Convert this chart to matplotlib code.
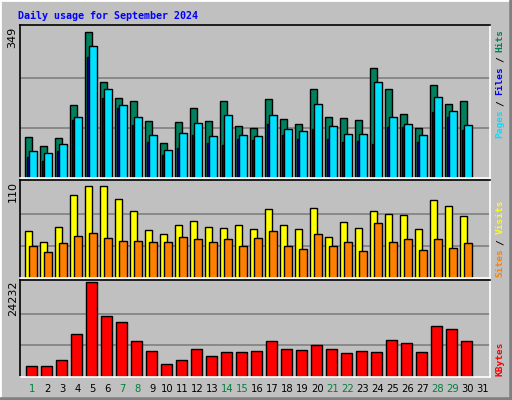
import matplotlib
matplotlib.use("Agg")
import matplotlib.pyplot as plt
from matplotlib.lines import Line2D

days = list(range(1, 31))
hits = [95, 74, 93, 171, 339, 224, 185, 178, 132, 81, 130, 164, 132, 178, 120,
        116, 183, 137, 125, 208, 141, 139, 134, 256, 206, 148, 116, 217, 173, 178]
files = [63, 58, 79, 143, 307, 206, 171, 141, 100, 65, 104, 127, 97, 146, 100,
         97, 146, 114, 109, 173, 120, 102, 102, 224, 143, 125, 100, 189, 157, 123]
pages = [49, 40, 63, 134, 281, 187, 162, 123, 84, 54, 70, 100, 81, 77, 91,
         88, 125, 100, 91, 114, 91, 84, 86, 79, 118, 118, 84, 153, 143, 111]
sites = [54, 41, 58, 95, 105, 105, 90, 77, 55, 50, 61, 65, 58, 57, 61,
         56, 79, 61, 56, 80, 47, 64, 57, 77, 73, 72, 56, 89, 83, 71]
visits = [37, 30, 40, 48, 51, 46, 42, 42, 41, 41, 47, 45, 41, 45, 37,
          46, 54, 37, 33, 50, 37, 41, 31, 63, 41, 45, 32, 45, 34, 40]
kbytes = [2929, 2929, 4260, 10918, 24232, 15444, 14113, 9053, 6657, 3195,
          4260, 7190, 5325, 6391, 6391, 6657, 9053, 7190, 6923, 8255,
          7190, 6125, 6657, 6391, 9320, 8787, 6391, 13048, 12249, 9053]
tick_days = list(range(1, 32))
weekend = [1, 7, 8, 14, 15, 21, 22, 28, 29]
max_top, max_mid, max_bot = 349, 110, 24232

W, H = 512, 400
fig = plt.figure(figsize=(W/100, H/100), dpi=100, facecolor="#C0C0C0")

def px_axes(x0, y0, x1, y1):
    return fig.add_axes([x0/W, 1-y1/H, (x1-x0)/W, (y1-y0)/H])

def style(ax, ymax, label):
    ax.set_facecolor("#C0C0C0")
    ax.set_xlim(0.267, 31.6)
    ax.set_ylim(0, ymax*1.02)
    for g in (ymax/3, 2*ymax/3):
        ax.axhline(g, color="#808080", lw=1.2, zorder=0)
    ax.set_xticks([]); ax.set_yticks([])
    ax.spines["top"].set_color("black"); ax.spines["left"].set_color("black")
    ax.spines["bottom"].set_color("white"); ax.spines["right"].set_color("white")
    for s in ax.spines.values():
        s.set_linewidth(1.2)
    ax.text(-0.005, 0.99, label, transform=ax.transAxes, rotation=90, ha="right",
            va="top", fontsize=8, family="DejaVu Sans")

mono = dict(family="DejaVu Sans Mono", fontweight="bold", fontsize=6.8, rotation=90,
            ha="center", va="bottom")
CH = 5.4

def side_label(ybottom_px, words):
    y = ybottom_px
    for i, (txt, col) in enumerate(words):
        if i > 0:
            y -= CH
            fig.text(500/W, 1-y/H, "/", color="black", **mono)
            y -= 2*CH
        fig.text(500/W, 1-y/H, txt, color=col, **mono)
        y -= len(txt)*CH

ek = dict(edgecolor="black", linewidth=1.0)
ax1 = px_axes(20, 25, 490, 178)
style(ax1, max_top, str(max_top))
ax1.bar([d-0.4 for d in days], hits, width=0.49, align="edge", color="#00805C", **ek)
ax1.bar([d-0.29 for d in days], pages, width=0.17, align="edge", color="#0000FF", **ek)
ax1.bar([d-0.11 for d in days], files, width=0.49, align="edge", color="#00E0FF", **ek)
side_label(138, [("Pages", "#00E0FF"), ("Files", "#0000FF"), ("Hits", "#00805C")])

ax2 = px_axes(20, 180, 490, 278)
style(ax2, max_mid, str(max_mid))
ax2.bar([d-0.4 for d in days], sites, width=0.49, align="edge", color="#FFFF00", **ek)
ax2.bar([d-0.11 for d in days], visits, width=0.49, align="edge", color="#FF8000", **ek)
side_label(277, [("Sites", "#FF8000"), ("Visits", "#FFFF00")])

ax3 = px_axes(20, 280, 490, 377)
style(ax3, max_bot, str(max_bot))
ax3.bar([d-0.33 for d in days], kbytes, width=0.71, align="edge", color="#FF0000", **ek)
side_label(376, [("KBytes", "#FF0000")])

for d in tick_days:
    xf = (20 + (d-0.267)/(31.6-0.267)*470 + 1.5)/W
    fig.text(xf, 1-389/H, str(d), ha="center", va="center", fontsize=7.2,
             color="#008040" if d in weekend else "black", family="DejaVu Sans")

fig.text(18/W, 1-16/H, "Daily usage for September 2024", color="#0000FF",
         family="DejaVu Sans Mono", fontweight="bold", fontsize=7.2, va="center")

fig.add_artist(Line2D([0, 0, 1], [0, 1, 1], transform=fig.transFigure, color="white", lw=2))
fig.add_artist(Line2D([0, 1, 1], [0, 0, 1], transform=fig.transFigure, color="#808080", lw=4))

fig.savefig("out.png", dpi=100, facecolor=fig.get_facecolor())
